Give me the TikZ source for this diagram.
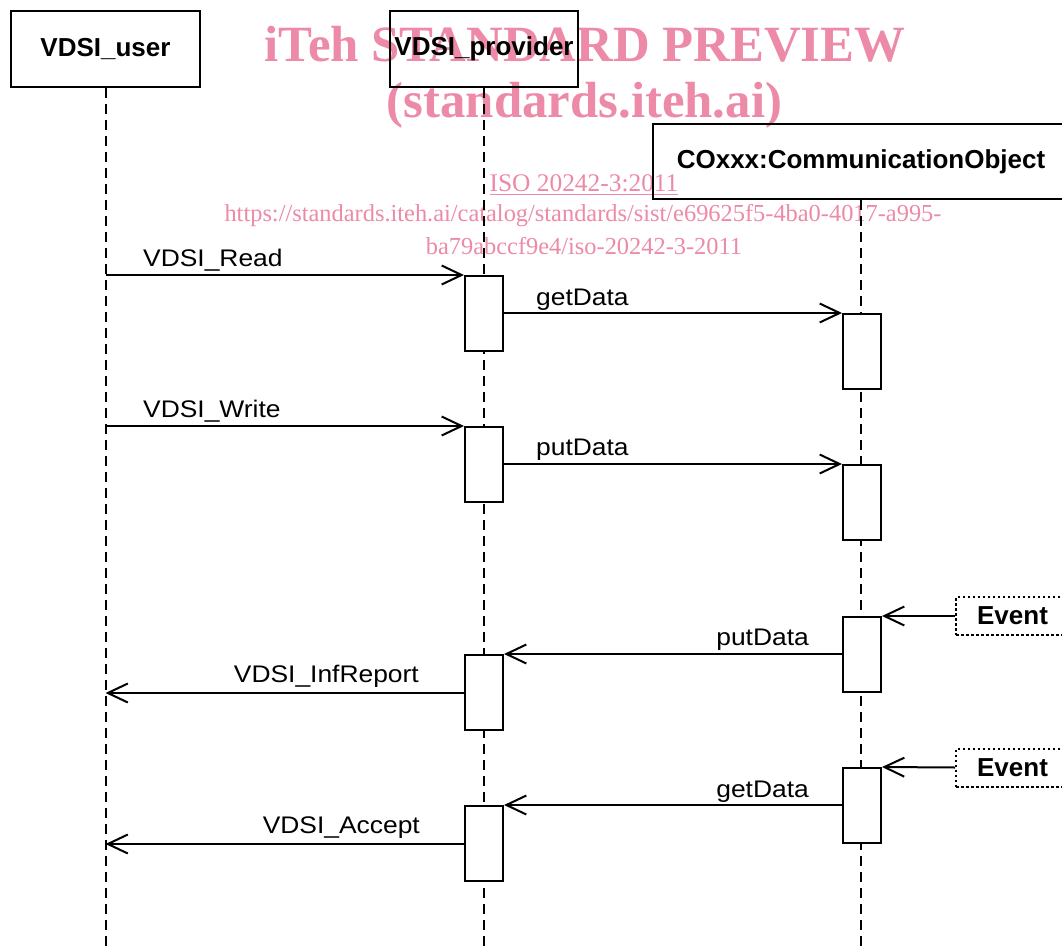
\documentclass[tikz,border=0pt]{standalone}
\usepackage{fontspec}
\setmainfont{Liberation Sans}
\newfontfamily\lblfont[FakeStretch=1.1]{Liberation Sans}
\newfontfamily\wmfont{Liberation Serif}
\usetikzlibrary{arrows.meta}
\definecolor{wmpink}{RGB}{236,138,167}
\begin{document}
\begin{tikzpicture}[x=1pt,y=-1pt,
  obj/.style={draw,line width=2.5pt,font=\fontsize{26}{30}\selectfont\bfseries,inner sep=0pt},
  act/.style={draw,fill=white,line width=2pt,minimum width=38pt,minimum height=75pt,inner sep=0pt},
  life/.style={line width=2pt,dash pattern=on 10pt off 6pt},
  msg/.style={line width=2pt,-{Straight Barb[length=20pt,width=19pt]}},
  lbl/.style={font=\lblfont\fontsize{24}{28}\selectfont,inner sep=0pt},
  evt/.style={draw,line width=2pt,dash pattern=on 2.5pt off 2.5pt,font=\fontsize{26}{30}\selectfont\bfseries,inner sep=0pt,minimum width=113pt,minimum height=38pt},
  wmbig/.style={text=wmpink,font=\wmfont\bfseries\fontsize{50.8}{56}\selectfont,inner sep=0pt},
  wmsmall/.style={text=wmpink,font=\wmfont\fontsize{24.4}{28}\selectfont,inner sep=0pt}
]
\useasboundingbox[fill=white] (0,0) rectangle (1062,952);

% watermark
\node[wmbig,anchor=base] (wmA) at (585,62) {iTeh STANDARD PREVIEW};
\node[wmbig,anchor=base] (wmB) at (584.5,118) {(standards.iteh.ai)};
\node[wmsmall,anchor=base,font=\wmfont\fontsize{25.4}{28}\selectfont] (wmC) at (584,192) {\underline{ISO 20242-3:2011}};
\node[wmsmall,anchor=base] (wmD) at (583,221) {https://standards.iteh.ai/catalog/standards/sist/e69625f5-4ba0-4017-a995-};
\node[wmsmall,anchor=base] (wmE) at (584,254) {ba79abccf9e4/iso-20242-3-2011};

% objects
\node[obj,minimum width=189pt,minimum height=76pt] (user) at (105.5,49) {VDSI\_user};
\node[obj,minimum width=188pt,minimum height=76pt] (prov) at (484,49) {VDSI\_provider};
\node[obj,minimum width=416pt,minimum height=75pt] (co) at (861,161.5) {COxxx:CommunicationObject};

\coordinate (userEnd) at (105.5,952);
\coordinate (provEnd) at (484,952);
\coordinate (coEnd) at (861,952);
\draw[life] (user.south) -- (userEnd);
\draw[life] (prov.south) -- (provEnd);
\draw[life] (co.south) -- (coEnd);

% activations
\node[act] (pa1) at (484,313.5) {};
\node[act] (pa2) at (484,464.5) {};
\node[act] (pa3) at (484,692.5) {};
\node[act] (pa4) at (484,843.5) {};
\node[act] (ca1) at (862,351.5) {};
\node[act] (ca2) at (862,502.5) {};
\node[act] (ca3) at (862,654.5) {};
\node[act] (ca4) at (862,805.5) {};

% events
\node[evt] (ev1) at (1012.5,616) {Event};
\node[evt] (ev2) at (1012.5,767.5) {Event};

% messages
\draw[msg] (user.south |- pa1.north) -- (pa1.north west);
\draw[msg] (pa1.east |- ca1.north) -- (ca1.north west);
\draw[msg] (user.south |- pa2.north) -- (pa2.north west);
\draw[msg] (pa2.east |- ca2.north) -- (ca2.north west);
\draw[msg] (ev1.west) -- (ca3.north east);
\draw[msg] (ca3.west |- pa3.north) -- (pa3.north east);
\draw[msg] (pa3.west |- ca3.south) -- (user.south |- ca3.south);
\draw[msg] (ev2.west) -- (ca4.north east);
\draw[msg] (ca4.west |- pa4.north) -- (pa4.north east);
\draw[msg] (pa4.west |- ca4.south) -- (user.south |- ca4.south);

% labels
\node[lbl,anchor=base west] (l1) at (143,266) {VDSI\_Read};
\node[lbl,anchor=base west] (l2) at (536,305) {getData};
\node[lbl,anchor=base west] (l3) at (143,417) {VDSI\_Write};
\node[lbl,anchor=base west] (l4) at (536,455) {putData};
\node[lbl,anchor=base east] (l5) at (809,645) {putData};
\node[lbl,anchor=base east] (l6) at (419,682) {VDSI\_InfReport};
\node[lbl,anchor=base east] (l7) at (809,797) {getData};
\node[lbl,anchor=base east] (l8) at (420,833) {VDSI\_Accept};
\end{tikzpicture}
\end{document}
